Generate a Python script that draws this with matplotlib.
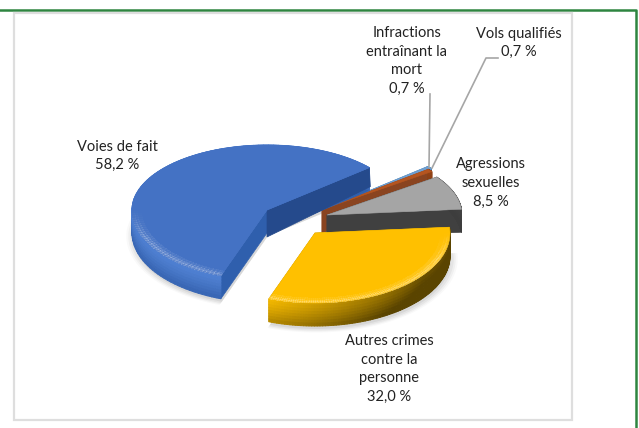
#!/usr/bin/env python3
"""Exploded 3D style pie of crimes against the person"""

import numpy as np
import matplotlib
matplotlib.use('Agg')
import matplotlib.pyplot as plt
from matplotlib.collections import PolyCollection
from matplotlib.colors import to_rgb
from matplotlib.patches import Polygon, Rectangle

# data, clockwise from the top right
labels = ['Vols qualifiés\n0,7 %', 'Infractions\nentraînant la\nmort\n0,7 %',
          'Agressions\nsexuelles\n8,5 %', 'Autres crimes\ncontre la\npersonne\n32,0 %',
          'Voies de fait\n58,2 %']
values = [0.7, 0.7, 8.5, 32.0, 58.2]

plt.rcParams['font.family'] = ['Lato', 'DejaVu Sans']

START = 40.7   # angle where the first slice begins
RX, RY_BACK, RY_FRONT, DEPTH = 135, 65, 70, 23

# per slice: apex, top colour, cut face colour, rim light, rim dark
slices = [
    dict(apex=(325, 209), top='#6f9fd0', face='#3f7ab0', light='#5b9bd5', dark='#2f5f8f'),
    dict(apex=(322, 209.5), top='#b5551f', face='#8a4420', light='#a04a18', dark='#6a3010'),
    dict(apex=(327, 215), top='#a5a5a5', face='#404040', light='#4a4a4a', dark='#3a3a3a'),
    dict(apex=(315, 233), top='#ffc000', face='#c49400', light='#f7bb00', dark='#5a4400'),
    dict(apex=(267, 210), top='#4472c4', face='#2f5fad', light='#4f80d2', dark='#2a55a0'),
]


def arc(apex, a0, a1, n=120, scale=1.0):
    t = np.radians(np.linspace(a0, a1, n))
    s = np.sin(t)
    ry = np.where(s < 0, RY_FRONT, RY_BACK)
    return np.column_stack([apex[0] + scale * RX * np.cos(t),
                            apex[1] - scale * ry * s])


def mix(c1, c2, f):
    c1, c2 = np.array(to_rgb(c1)), np.array(to_rgb(c2))
    return tuple(c1 + (c2 - c1) * f)


def draw_slice(ax, s, a0, a1, z):
    apex = np.array(s['apex'], dtype=float)
    # cut faces dropped down by the depth
    for ang in (a0, a1):
        p = arc(apex, ang, ang, n=1)[0]
        ax.add_patch(Polygon([apex, p, p + [0, DEPTH], apex + [0, DEPTH]],
                             fc=s['face'], ec=s['face'], lw=0.5, zorder=z))
    # outer rim, shaded down and along the arc
    polys, cols = [], []
    ang = np.linspace(a0, a1, 100)
    levels = np.linspace(0, 1, 9)
    for i in range(len(ang) - 1):
        q0 = arc(apex, ang[i], ang[i + 1], n=2)
        for j in range(len(levels) - 1):
            l0, l1 = levels[j] * DEPTH, levels[j + 1] * DEPTH
            polys.append([q0[0] + [0, l0], q0[1] + [0, l0], q0[1] + [0, l1], q0[0] + [0, l1]])
            f = s['shade'](ang[i]) * 0.9 + levels[j] ** 1.3 * s['fall']
            cols.append(mix(s['light'], s['dark'], min(1, f)))
    ax.add_collection(PolyCollection(polys, facecolors=cols, edgecolors=cols, lw=0.7, zorder=z + 0.1))
    ax.add_patch(Polygon(np.vstack([apex, arc(apex, a0, a1)]), fc=s['top'], ec=s['top'], lw=0.4, zorder=z + 0.2))


def draw_shadow(ax, s, a0, a1):
    apex = np.array(s['apex'], dtype=float) + [1, DEPTH + 3]
    for grow, alpha in zip([1.05, 1.035, 1.02, 1.0], [0.025, 0.035, 0.045, 0.06]):
        ax.add_patch(Polygon(np.vstack([apex, arc(apex, a0, a1, scale=grow)]),
                             fc='black', alpha=alpha, lw=0, zorder=2))


def draw_bevel(ax, s, a0, a1, z):
    # soft light band along the front edge, fading out at both ends
    apex = np.array(s['apex'], dtype=float)
    ang = np.linspace(a0, a1, 120)
    polys, cols = [], []
    for i in range(len(ang) - 1):
        if np.sin(np.radians(ang[i])) >= 0:
            continue
        fade = min(1, -np.sin(np.radians(ang[i])) * 2.5)
        for k0, k1, alpha in [(0.93, 0.96, 0.05), (0.96, 0.98, 0.1), (0.98, 1.0, 0.15)]:
            outer = arc(apex, ang[i], ang[i + 1], n=2, scale=k1)
            inner = arc(apex, ang[i + 1], ang[i], n=2, scale=k0)
            polys.append(np.vstack([outer, inner]))
            cols.append((1, 1, 1, alpha * fade))
    ax.add_collection(PolyCollection(polys, facecolors=cols, edgecolors='none',
                                     antialiaseds=False, zorder=z))


fig = plt.figure(figsize=(6.39, 4.28), dpi=100, facecolor='white')
ax = fig.add_axes([0, 0, 1, 1])
ax.set_xlim(0, 639)
ax.set_ylim(428, 0)
ax.axis('off')

# page rule and chart frame
ax.plot([0, 635.5, 635.5], [10, 10, 428], color='#2e8540', lw=1.8, zorder=1)
ax.add_patch(Rectangle((13.5, 12.5), 558, 407, fc='white', ec='#dedede', lw=1.6, zorder=1))

sweeps = np.array(values) / np.sum(values) * 360
edges = START - np.concatenate([[0], np.cumsum(sweeps)])

shades = [lambda a: 0.3, lambda a: 0.3, lambda a: 0.5,
          lambda a: np.clip((a + 112) / 75, 0, 1),
          lambda a: 0.0]
falls = [0.4, 0.4, 0.4, 0.45, 0.7]
zorders = [3, 4, 5, 7, 6]
for i, s in enumerate(slices):
    s['shade'] = shades[i]
    s['fall'] = falls[i]
    if i >= 3:
        draw_shadow(ax, s, edges[i + 1], edges[i])
    draw_slice(ax, s, edges[i + 1], edges[i], zorders[i])

# the blue slice has a darker, tapering face on its upper cut
blue = slices[4]
blue_apex = np.array(blue['apex'], dtype=float)
p = arc(blue_apex, START, START, n=1)[0]
ax.add_patch(Polygon([blue_apex, p, p + [1, 19], blue_apex + [0, 27]],
                     fc='#254a8c', ec='#254a8c', lw=0.5, zorder=6.15))
ax.add_patch(Polygon(np.vstack([blue_apex, arc(blue_apex, edges[5], edges[4])]),
                     fc=blue['top'], ec=blue['top'], lw=0.4, zorder=6.2))

draw_bevel(ax, blue, edges[5], edges[4], 6.3)
draw_bevel(ax, slices[3], edges[4], edges[3], 7.3)

# leader lines
ax.plot([430, 429], [94, 167], color='#a6a6a6', lw=1.2, zorder=8)
ax.plot([498, 486, 432], [58, 58, 168], color='#a6a6a6', lw=1.2, zorder=8)

# labels
positions = [(519, 43), (407, 61), (491, 183), (389, 369), (117, 156)]
for (x, y), txt in zip(positions, labels):
    ax.text(x, y, txt, ha='center', va='center', fontsize=10.5, color='#222222',
            linespacing=1.42, zorder=9)

fig.savefig('out.png', dpi=100, facecolor='white')
